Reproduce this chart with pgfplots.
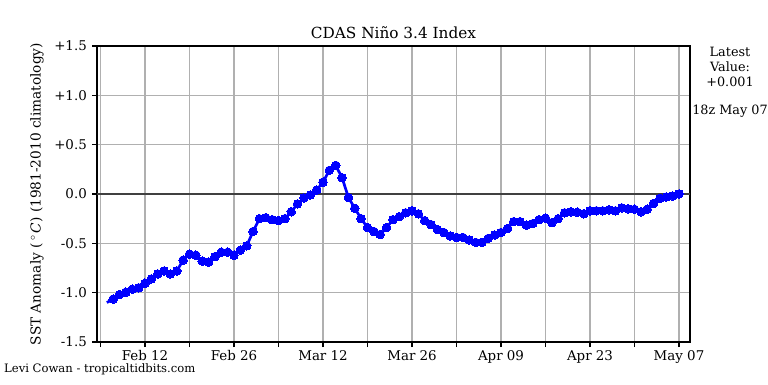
\documentclass[border=0pt]{standalone}
\usepackage{pgfplots}
\pgfplotsset{compat=1.18}
\usepackage{fontspec}
\setmainfont{DejaVu Serif}
\definecolor{gridgray}{RGB}{176,176,176}
\definecolor{zeroline}{RGB}{64,64,64}
\begin{document}
\begin{tikzpicture}[x=1pt,y=1pt]
\path[use as bounding box] (0,0) rectangle (768,384);
\begin{axis}[
  at={(97pt,42pt)}, anchor=south west,
  scale only axis, width=593pt, height=296pt,
  xmin=-7.55, xmax=85.73, ymin=-1.5, ymax=1.5,
  xtick={-7,0,...,84},
  xticklabels={{},Feb 12,{},Feb 26,{},Mar 12,{},Mar 26,{},Apr 09,{},Apr 23,{},May 07},
  ytick={-1.5,-1,...,1.5},
  yticklabels={-1.5,-1.0,-0.5,0.0,+0.5,+1.0,+1.5},
  tick pos=left, tick align=outside, major tick length=5pt,
  tick style={black, line width=1.1pt},
  axis line style={black, line width=1.1pt},
  grid=major,
  major grid style={draw=gridgray, line width=1.1pt},
  ticklabel style={font=\fontsize{13.4}{16}\selectfont},
  xticklabel style={inner sep=2pt, yshift=-1pt},
  yticklabel style={inner sep=2pt, xshift=-3pt},
]
\addplot[draw=zeroline, line width=1.5pt, forget plot] coordinates {(-7.55,0) (85.73,0)};
\addplot[color=blue, line width=2.7pt, mark=*, mark size=4.3pt,
  mark options={solid, fill=blue, draw=blue, line width=0pt}, mark phase=2]
coordinates {
(-6,-1.10) (-5,-1.065) (-4,-1.02) (-3,-0.995) (-2,-0.965) (-1,-0.95)
(0,-0.905) (1,-0.86) (2,-0.81) (3,-0.78) (4,-0.81) (5,-0.78)
(6,-0.67) (7,-0.61) (8,-0.62) (9,-0.68) (10,-0.69) (11,-0.635)
(12,-0.59) (13,-0.59) (14,-0.62) (15,-0.57) (16,-0.525) (17,-0.38)
(18,-0.25) (19,-0.24) (20,-0.26) (21,-0.27) (22,-0.25) (23,-0.18)
(24,-0.10) (25,-0.04) (26,-0.01) (27,0.04) (28,0.12) (29,0.24)
(30,0.29) (31,0.165) (32,-0.035) (33,-0.145) (34,-0.25) (35,-0.34)
(36,-0.38) (37,-0.41) (38,-0.34) (39,-0.26) (40,-0.23) (41,-0.19)
(42,-0.17) (43,-0.20) (44,-0.27) (45,-0.31) (46,-0.36) (47,-0.39)
(48,-0.425) (49,-0.44) (50,-0.44) (51,-0.465) (52,-0.49) (53,-0.49)
(54,-0.45) (55,-0.415) (56,-0.39) (57,-0.35) (58,-0.28) (59,-0.28)
(60,-0.315) (61,-0.30) (62,-0.26) (63,-0.245) (64,-0.29) (65,-0.25)
(66,-0.19) (67,-0.18) (68,-0.185) (69,-0.20) (70,-0.17) (71,-0.17)
(72,-0.17) (73,-0.16) (74,-0.17) (75,-0.14) (76,-0.15) (77,-0.155)
(78,-0.18) (79,-0.155) (80,-0.095) (81,-0.045) (82,-0.03) (83,-0.02)
(84,0.001)
};
\end{axis}
\node[font=\fontsize{15.3}{18}\selectfont] at (393.5,351) {CDAS Niño 3.4 Index};
\node[rotate=90, font=\fontsize{13.7}{16}\selectfont] at (37,190) {SST Anomaly (\,\textsuperscript{$\circ$}\,\textit{C}) (1981-2010 climatology)};
\node[font=\fontsize{12.8}{15}\selectfont] at (730,332) {Latest};
\node[font=\fontsize{12.8}{15}\selectfont] at (730,317) {Value:};
\node[font=\fontsize{12.8}{15}\selectfont] at (730,302) {+0.001};
\node[font=\fontsize{12.8}{15}\selectfont] at (730,273) {18z May 07};
\node[anchor=west, inner sep=0pt, font=\fontsize{11.6}{13}\selectfont] at (4,15) {Levi Cowan - tropicaltidbits.com};
\end{tikzpicture}
\end{document}
